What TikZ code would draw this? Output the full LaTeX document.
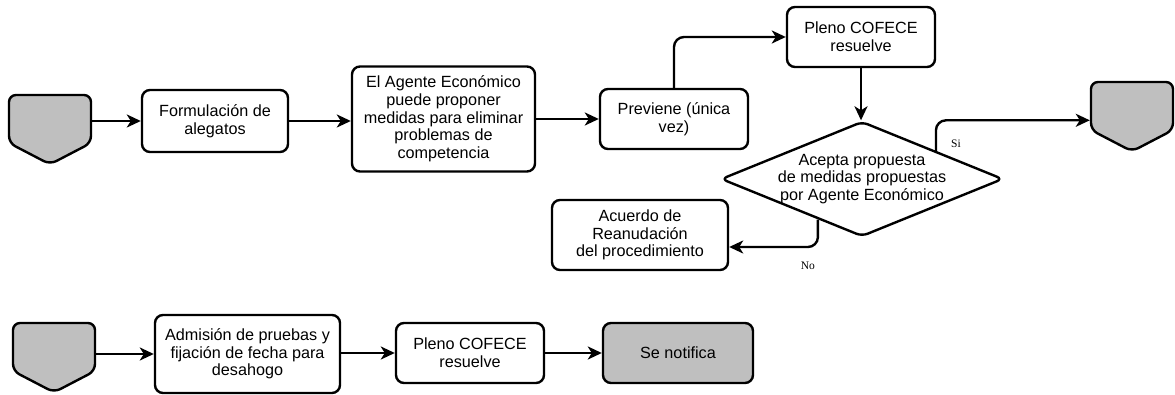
\documentclass[tikz,border=0pt]{standalone}
\usepackage{fontspec}
\setmainfont{Liberation Sans}
\newfontfamily\labelfont{Liberation Serif}
\usepackage{xcolor}
\usetikzlibrary{arrows.meta}
\usetikzlibrary{calc}
\usetikzlibrary{shapes.geometric,shapes.symbols}
\tikzset{>={Stealth[length=14pt,width=13pt,inset=4pt]}}
\colorlet{mygray}{black!25}
\tikzset{
  caja/.style={draw,line width=2.4pt,rounded corners=8pt,align=center,inner sep=0pt,
    font=\fontsize{16.2}{17.7}\selectfont},
  conector/.style={draw,fill=mygray,line width=2.4pt,rounded corners=7pt,signal,
    signal to=south,signal from=nowhere,signal pointer angle=125,inner sep=0pt,
    minimum width=82pt,minimum height=48pt},
  decision/.style={draw,line width=2.4pt,diamond,rounded corners=6pt,aspect=2.45,
    inner sep=-6pt,minimum width=282pt,minimum height=115pt,align=center,
    font=\fontsize{16.2}{17.7}\selectfont},
  flecha/.style={->,line width=2.4pt,rounded corners=10pt},
  etiqueta/.style={font=\labelfont\fontsize{11.5}{12}\selectfont,inner sep=0pt}
}

\begin{document}
\begin{tikzpicture}[x=1pt,y=-1pt]
  \useasboundingbox (0,0) rectangle (1175,395);

  % FIRST ROW
  \node[conector] (ini1) at (50,119) {};
  \node[caja,minimum width=146pt,minimum height=62pt] (formul) at (215,121)
    {Formulación de\\alegatos};
  \node[caja,minimum width=183pt,minimum height=105pt] (agente) at (443.5,119)
    {El Agente Económico\\puede proponer\\medidas para eliminar\\problemas de\\competencia};
  \node[caja,minimum width=148pt,minimum height=60pt] (prev) at (674,119)
    {Previene (única\\vez)};
  \node[caja,minimum width=148pt,minimum height=60pt] (pleno1) at (861,37)
    {Pleno COFECE\\resuelve};
  \node[decision] (dec) at (862,179)
    {Acepta propuesta\\de medidas propuestas\\por Agente Económico};
  \node[conector] (fin1) at (1132,106) {};
  \node[caja,minimum width=176pt,minimum height=70pt] (acuerdo) at (640,235)
    {Acuerdo de\\Reanudación\\del procedimiento};

  \coordinate (si) at ($(dec.north)!0.52!(dec.east)$);
  \coordinate (no) at ($(dec.south)!0.31!(dec.west)$);

  \draw[flecha] (formul.west -| ini1.east) -- (formul.west);
  \draw[flecha] (formul.east) -- (agente.west |- formul.east);
  \draw[flecha] (agente.east) -- (prev.west);
  \draw[flecha] (prev.north) |- (pleno1.west);
  \draw[flecha] (pleno1.south) -- (pleno1.south |- dec.north);
  \draw[flecha] (si) |- (fin1.west |- dec.north)
    node[etiqueta,pos=0.12,right=14pt] (lblsi) {Si};
  \draw[flecha] (no) |- ([yshift=-12pt]acuerdo.east)
    node[etiqueta,pos=0.5,below=14pt,xshift=-10pt] (lblno) {No};

  % SECOND ROW
  \node[conector] (ini2) at (54,347) {};
  \node[caja,minimum width=185pt,minimum height=78pt] (admision) at (247.5,354)
    {Admisión de pruebas y\\fijación de fecha para\\desahogo};
  \node[caja,minimum width=148pt,minimum height=60pt] (pleno2) at (470,353)
    {Pleno COFECE\\resuelve};
  \node[caja,fill=mygray,minimum width=150pt,minimum height=60pt] (notif) at (678,353)
    {Se notifica};

  \draw[flecha] (admision.west -| ini2.east) -- (admision.west);
  \draw[flecha] (admision.east |- pleno2.west) -- (pleno2.west);
  \draw[flecha] (pleno2.east) -- (notif.west);

\end{tikzpicture}
\end{document}
